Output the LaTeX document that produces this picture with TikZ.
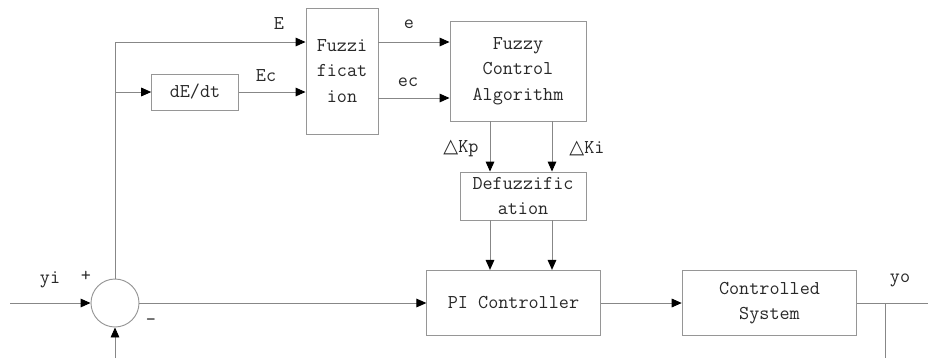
\documentclass[tikz,border=0pt]{standalone}
\usepackage{fontspec}
\newfontfamily\trifont{DejaVu Sans}
\usetikzlibrary{arrows.meta, positioning, calc}
\definecolor{boxgray}{RGB}{150,150,150}
\definecolor{linegray}{RGB}{135,135,135}
\definecolor{txtdark}{RGB}{40,40,40}
\tikzset{
  block/.style={rectangle, draw=boxgray, line width=0.7pt, align=center,
    font=\ttfamily\fontsize{14.7}{19}\selectfont, text=txtdark, inner sep=0pt},
  sumjunc/.style={circle, draw=boxgray, line width=0.7pt,
    minimum size=36pt, inner sep=0pt},
  arrow/.style={-{Triangle[length=7.5pt, width=6.5pt, color=black]}, line width=0.7pt, color=linegray},
  line/.style={line width=0.7pt, color=linegray},
  lbl/.style={font=\ttfamily\fontsize{14.7}{15}\selectfont, text=txtdark}
}
\newcommand{\tri}{{\trifont\fontsize{14.5}{15}\selectfont\char"25B3}}
\begin{document}
\begin{tikzpicture}[x=0.75pt, y=-0.75pt]
  \useasboundingbox (0,0) rectangle (928,358);
  % blocks
  \node[sumjunc] (sum) at (115,303) {};
  \node[block, minimum width=65pt, minimum height=27pt] (deriv) at (195,92) {dE/dt};
  \node[block, minimum width=54pt, minimum height=94.5pt] (fuzz) at (342,71) {Fuzzi\\ficat\\ion};
  \node[block, minimum width=102pt, minimum height=75pt] (fca) at (518,71) {Fuzzy\\Control\\Algorithm};
  \node[block, minimum width=94.5pt, minimum height=36pt] (defuzz) at (523,196) {Defuzzific\\ation};
  \node[block, minimum width=130pt, minimum height=49pt] (pi) at (513.5,303) {PI Controller};
  \node[block, minimum width=131pt, minimum height=49pt] (plant) at (769.5,303) {Controlled\\System};
  % free ends
  \coordinate (yin) at (10,303);
  \coordinate (top) at (115,42);
  \coordinate (brc) at (115,92);
  \coordinate (yout) at (928,303);
  \coordinate (fbtap) at (885,303);
  \coordinate (fbend) at (885,358);
  \coordinate (fbin) at (115,358);
  % connectors
  \draw[arrow] (yin) -- (sum.west);
  \draw[arrow] (sum.north) -- (top) -- (top -| fuzz.west);
  \draw[arrow] (brc) -- (deriv.west);
  \draw[arrow] (deriv.east) -- (deriv.east -| fuzz.west);
  \draw[arrow] (fuzz.east |- top) -- (fca.west |- top);
  \draw[arrow] (fuzz.east |- 0,98) -- (fca.west |- 0,98);
  \foreach \x in {490,552} {
    \draw[arrow] (fca.south -| \x,0) -- (defuzz.north -| \x,0);
    \draw[arrow] (defuzz.south -| \x,0) -- (pi.north -| \x,0);
  }
  \draw[arrow] (sum.east) -- (pi.west);
  \draw[arrow] (pi.east) -- (plant.west);
  \draw[line] (plant.east) -- (yout);
  \draw[line] (fbtap) -- (fbend);
  \draw[arrow] (fbin) -- (sum.south);
  % labels
  \node[lbl] (lyi) at (50,280) {yi};
  \node[lbl] (lplus) at (86,276) {+};
  \node[lbl] (lminus) at (151,322) {-};
  \node[lbl] (lE) at (279,24) {E};
  \node[lbl] (lEc) at (266,76) {Ec};
  \node[lbl] (le) at (409,24) {e};
  \node[lbl] (lec) at (408,82) {ec};
  \node[lbl] (lkp) at (461,148) {\tri Kp};
  \node[lbl] (lki) at (587,148) {\tri Ki};
  \node[lbl] (lyo) at (900,280) {yo};
\end{tikzpicture}
\end{document}
